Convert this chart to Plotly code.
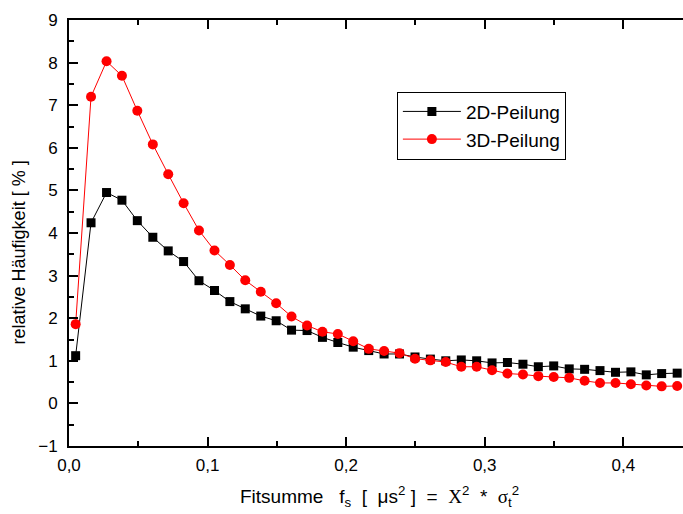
import plotly.graph_objects as go

fitsumme = [0.0048, 0.0159, 0.0271, 0.0382, 0.0493, 0.0605, 0.0716, 0.0827, 0.0938, 0.1050,
            0.1161, 0.1272, 0.1384, 0.1495, 0.1606, 0.1718, 0.1829, 0.1940, 0.2051, 0.2163,
            0.2274, 0.2385, 0.2497, 0.2608, 0.2719, 0.2831, 0.2942, 0.3053, 0.3164, 0.3276,
            0.3387, 0.3498, 0.3610, 0.3721, 0.3832, 0.3944, 0.4055, 0.4166, 0.4277, 0.4389]

peilung_2d = [1.12, 4.24, 4.95, 4.77, 4.29, 3.90, 3.58, 3.33, 2.88, 2.65,
              2.39, 2.22, 2.05, 1.94, 1.72, 1.71, 1.55, 1.43, 1.32, 1.24,
              1.16, 1.16, 1.09, 1.04, 1.00, 1.02, 1.00, 0.95, 0.96, 0.92,
              0.86, 0.88, 0.81, 0.80, 0.77, 0.73, 0.74, 0.67, 0.70, 0.71]

peilung_3d = [1.86, 7.20, 8.03, 7.69, 6.87, 6.08, 5.38, 4.70, 4.06, 3.59,
              3.25, 2.89, 2.62, 2.35, 2.04, 1.83, 1.68, 1.63, 1.46, 1.28,
              1.23, 1.18, 1.05, 1.01, 0.97, 0.86, 0.86, 0.78, 0.70, 0.68,
              0.64, 0.62, 0.60, 0.53, 0.48, 0.48, 0.45, 0.42, 0.40, 0.41]

series_names = ["2D-Peilung", "3D-Peilung"]
y_ticks = [-1, 0, 1, 2, 3, 4, 5, 6, 7, 8, 9]
x_ticks = [0.0, 0.1, 0.2, 0.3, 0.4]

FONT = "Liberation Sans, Arial, sans-serif"
SERIF = "Liberation Serif, Times New Roman, serif"

fig = go.Figure()
fig.add_trace(go.Scatter(
    x=fitsumme, y=peilung_2d, name=series_names[0], mode="lines+markers",
    line=dict(color="black", width=1),
    marker=dict(symbol="square", size=9, color="black"),
))
fig.add_trace(go.Scatter(
    x=fitsumme, y=peilung_3d, name=series_names[1], mode="lines+markers",
    line=dict(color="red", width=1),
    marker=dict(symbol="circle", size=10, color="red"),
))

W, H = 683, 514
ml, mr, mt, mb = 69, 0, 20, 68

fig.update_layout(
    width=W, height=H,
    margin=dict(l=ml, r=mr, t=mt, b=mb),
    paper_bgcolor="white", plot_bgcolor="white",
    separators=",.",
    font=dict(family=FONT, size=17, color="black"),
    showlegend=True,
    legend=dict(
        x=0.534, y=0.832, xanchor="left", yanchor="top",
        bordercolor="black", borderwidth=1, bgcolor="white",
        font=dict(family=FONT, size=19, color="black"),
        tracegroupgap=0, itemwidth=58,
    ),
    xaxis=dict(
        range=[0, 0.4431], tickvals=x_ticks, tickformat=".1f",
        ticks="inside", ticklen=9, tickwidth=2, tickcolor="black",
        showline=True, linewidth=2, linecolor="black", mirror="allticks",
        showgrid=False, zeroline=False,
        minor=dict(dtick=0.05, ticks="inside", ticklen=5, tickwidth=2, tickcolor="black", showgrid=False),
        tickfont=dict(family=FONT, size=17, color="black"),
        ticklabelstandoff=3,
    ),
    yaxis=dict(
        range=[-1, 9], tickvals=y_ticks,
        ticks="inside", ticklen=9, tickwidth=2, tickcolor="black",
        showline=True, linewidth=2, linecolor="black",
        showgrid=False, zeroline=False,
        minor=dict(dtick=0.5, ticks="inside", ticklen=5, tickwidth=2, tickcolor="black", showgrid=False),
        tickfont=dict(family=FONT, size=17, color="black"),
        ticklabelstandoff=6,
    ),
    annotations=[
        dict(
            text="relative Häufigkeit [ % ]", textangle=-90,
            xref="paper", yref="paper", x=-0.081, y=0.455,
            xanchor="center", yanchor="middle", showarrow=False,
            font=dict(family=FONT, size=18, color="black"),
        ),
        dict(
            text=("Fitsumme&nbsp;&nbsp;&nbsp;f<sub>s</sub>&nbsp;&nbsp;[&nbsp;&nbsp;μs<sup>2</sup>&nbsp;]&nbsp;&nbsp;=&nbsp;&nbsp;"
                  f"<span style='font-family:{SERIF}'>Χ</span><sup>2</sup>&nbsp;&nbsp;*&nbsp;&nbsp;"
                  f"<span style='font-family:{SERIF}'>σ</span><sub>t</sub><sup>2</sup>"),
            xref="paper", yref="paper", x=0.505, y=-0.118,
            xanchor="center", yanchor="middle", showarrow=False,
            font=dict(family=FONT, size=19, color="black"),
        ),
    ],
)

fig.write_html("out.html")
